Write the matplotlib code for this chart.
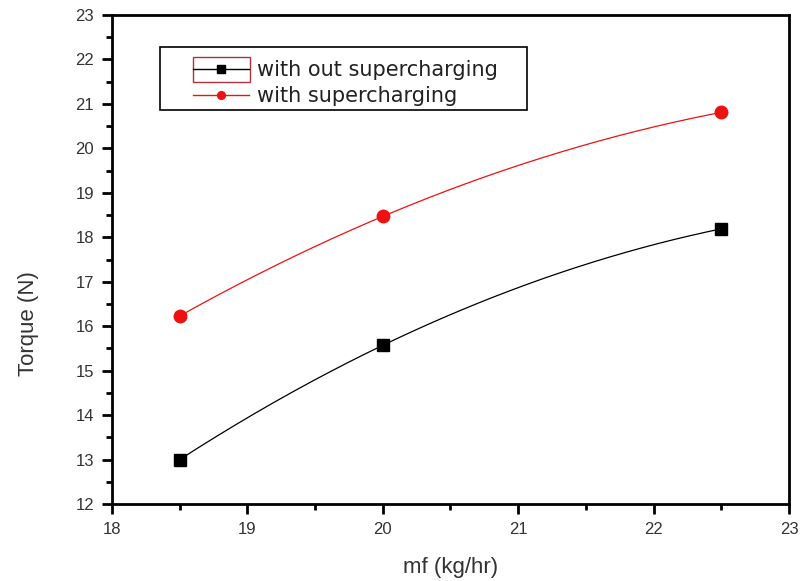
import numpy as np
import matplotlib
matplotlib.use("Agg")
import matplotlib.pyplot as plt
from matplotlib.ticker import MultipleLocator
from matplotlib.patches import Rectangle

plt.rcParams['font.family'] = ['Liberation Sans', 'DejaVu Sans']

mf = [18.5, 20.0, 22.5]
torque_without = [13.0, 15.57, 18.19]
torque_with = [16.23, 18.47, 20.81]

label_without = "with out supercharging"
label_with = "with supercharging"

W, H = 803, 581
fig = plt.figure(figsize=(W / 100, H / 100), dpi=100)
ax = fig.add_axes([112 / W, 1 - 504 / H, (789 - 112) / W, (504 - 15) / H])

xs = np.linspace(mf[0], mf[-1], 200)
handles = []
for y, color, marker, ms, lab in [(torque_without, 'black', 's', 8.5, label_without),
                                   (torque_with, '#ee1111', 'o', 9, label_with)]:
    c = np.polyfit(mf, y, 2)
    ax.plot(xs, np.polyval(c, xs), color=color, lw=0.9, zorder=2)
    ax.plot(mf, y, linestyle='none', marker=marker, color=color, ms=ms, zorder=3)
    h, = ax.plot([], [], color=color, lw=1.0, marker=marker, ms=ms * 0.62, label=lab)
    handles.append(h)

ax.set_xlim(18, 23)
ax.set_ylim(12, 23)
ax.xaxis.set_major_locator(MultipleLocator(1))
ax.xaxis.set_minor_locator(MultipleLocator(0.5))
ax.yaxis.set_major_locator(MultipleLocator(1))
ax.yaxis.set_minor_locator(MultipleLocator(0.5))
ax.tick_params(which='both', direction='out', top=False, right=False, width=2,
               colors='black', labelcolor='#333333')
ax.tick_params(which='major', length=7, labelsize=12, pad=6)
ax.tick_params(which='minor', length=4)
for s in ax.spines.values():
    s.set_linewidth(2)

ax.set_xlabel("mf (kg/hr)", fontsize=16, color='#333333', labelpad=14)
ax.set_ylabel("Torque (N)", fontsize=16, color='#333333')
ax.yaxis.set_label_coords(-0.108, 0.37)

leg = fig.legend(handles=handles, loc='upper left', bbox_to_anchor=(193 / W, 1 - 60 / H),
                 bbox_transform=fig.transFigure, frameon=False,
                 prop={'family': 'DejaVu Sans', 'size': 15},
                 borderpad=0, borderaxespad=0, handlelength=2.7, handletextpad=0.35,
                 labelspacing=0.3)
for t in leg.get_texts():
    t.set_color('#222222')

fig.patches.append(Rectangle((160 / W, 1 - 110 / H), 367 / W, 63 / H, transform=fig.transFigure,
                             fill=False, edgecolor='black', lw=1.2, zorder=5))
fig.patches.append(Rectangle((193 / W, 1 - 82 / H), 57 / W, 25 / H, transform=fig.transFigure,
                             fill=False, edgecolor='#b03040', lw=1.0, zorder=5))

fig.savefig("out.png", dpi=100)
